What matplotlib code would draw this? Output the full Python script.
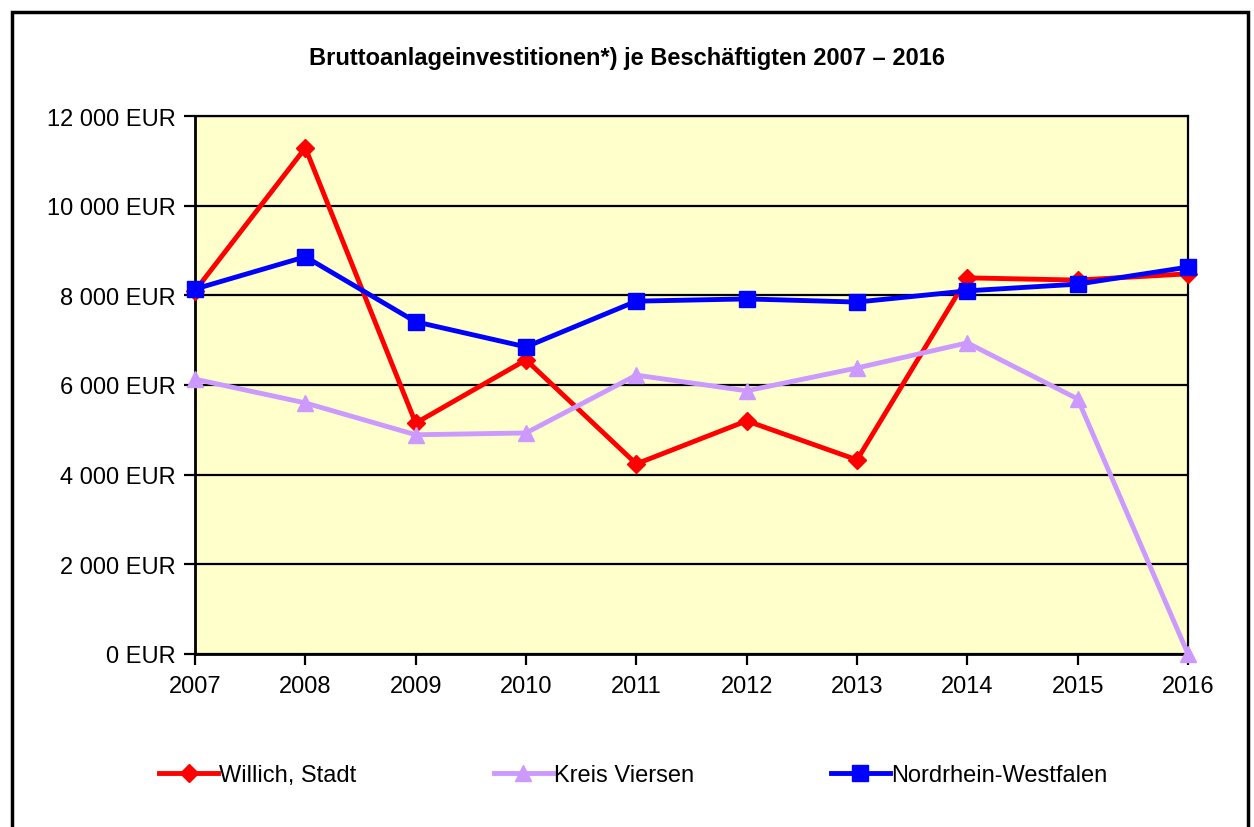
import matplotlib
matplotlib.use("Agg")
import matplotlib.pyplot as plt
from matplotlib.patches import Rectangle
from matplotlib.ticker import FuncFormatter

plt.rcParams['font.family'] = ['Liberation Sans', 'DejaVu Sans']

years = [2007, 2008, 2009, 2010, 2011, 2012, 2013, 2014, 2015, 2016]
willich = [8100, 11290, 5150, 6560, 4240, 5200, 4330, 8390, 8340, 8480]
viersen = [6130, 5600, 4890, 4930, 6220, 5870, 6380, 6940, 5690, 0]
nrw = [8140, 8860, 7410, 6850, 7870, 7920, 7850, 8100, 8250, 8630]
title = "Bruttoanlageinvestitionen*) je Beschäftigten 2007 \u2013 2016"

fig = plt.figure(figsize=(12.54, 8.28), dpi=100)
fig.patch.set_facecolor('white')
ax = fig.add_axes([195/1254, 1-655/828, (1188-195)/1254, (655-117)/828])
ax.set_facecolor('#FFFFCC')

ax.plot(years, willich, color='#FF0000', lw=3.5, marker='D', ms=9, label='Willich, Stadt', clip_on=False, zorder=3)
ax.plot(years, viersen, color='#CC99FF', lw=3.5, marker='^', ms=12, label='Kreis Viersen', clip_on=False, zorder=3)
ax.plot(years, nrw, color='#0000FF', lw=3.5, marker='s', ms=11, label='Nordrhein-Westfalen', clip_on=False, zorder=4)

ax.set_xlim(2007, 2016)
ax.set_ylim(0, 12000)
ax.set_xticks(years)
ax.set_yticks(range(0, 12001, 2000))
ax.yaxis.set_major_formatter(FuncFormatter(lambda v, p: f"{int(v):,}".replace(",", " ") + " EUR"))
ax.grid(axis='y', color='black', lw=1.6)
ax.set_axisbelow(True)
for s in ax.spines.values():
    s.set_color('black')
    s.set_linewidth(1.6)
ax.spines['left'].set_linewidth(2)
ax.spines['bottom'].set_linewidth(2)
ax.tick_params(axis='both', direction='out', length=8, width=1.6, labelsize=17, colors='black')
ax.tick_params(axis='x', pad=7)
ax.tick_params(axis='y', pad=6)

fig.text(0.5, 1-58/828, title, ha='center', va='center', fontsize=17, fontweight='bold')

fig.legend(loc='center', bbox_to_anchor=(0.505, 1-776/828), ncol=3, frameon=False, fontsize=17,
           handlelength=2.5, handletextpad=0.05, columnspacing=5.8)

fig.add_artist(Rectangle((12/1254, -0.01), (1248-12)/1254, (828-13)/828 + 0.01,
                         transform=fig.transFigure, fill=False, edgecolor='black', lw=2.5))

fig.savefig('out.png', dpi=100)
